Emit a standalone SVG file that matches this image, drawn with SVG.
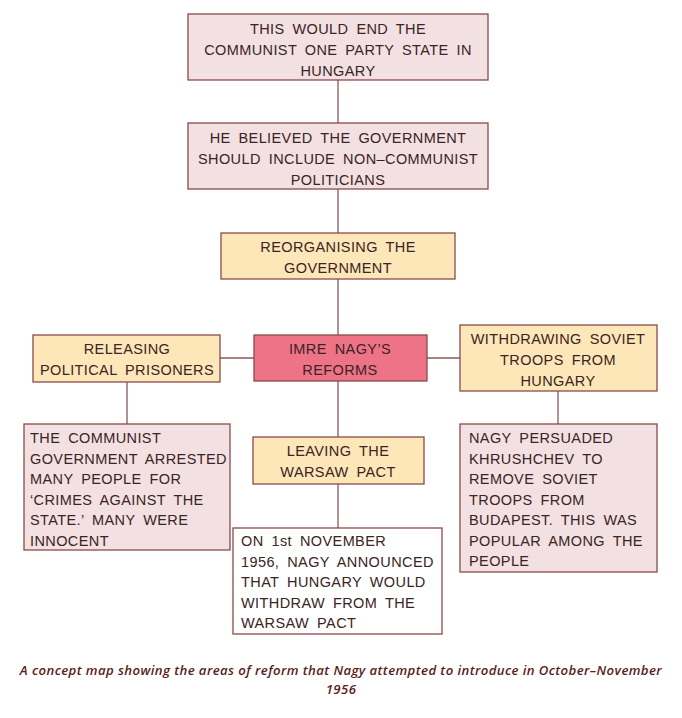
<svg xmlns="http://www.w3.org/2000/svg" width="682" height="718" viewBox="0 0 682 718">
<style>
.box{stroke:#8a4a4a;stroke-width:1.3}
.pink{fill:#f3e0e2}
.yellow{fill:#fde7b8}
.red{fill:#ee7387}
.white{fill:#ffffff}
.t{font-family:"Liberation Sans",Arial,sans-serif;font-size:14.5px;fill:#3a2424;letter-spacing:0.4px;word-spacing:3.5px}
.c{text-anchor:middle}
.line{stroke:#8a5a5a;stroke-width:1.3;fill:none}
.cap{font-family:"Open Sans","Liberation Sans",sans-serif;font-size:13.2px;font-style:italic;font-weight:600;fill:#5a1c1c;text-anchor:middle;letter-spacing:0.4px}
</style>
<rect width="682" height="718" fill="#ffffff"/>
<g id="connectors">
<path class="line" d="M338 80V123M338 189V233M338 279V335M338 381V437M338 484V528M220 358H254M427 358H460M127 382V424M558 391V424"/>
</g>
<g id="n1">
<rect class="box pink" x="188" y="14" width="300" height="66"/>
<text class="t c" x="338" y="34">THIS WOULD END THE</text>
<text class="t c" x="338" y="55">COMMUNIST ONE PARTY STATE IN</text>
<text class="t c" x="338" y="76">HUNGARY</text>
</g>
<g id="n2">
<rect class="box pink" x="188" y="123" width="300" height="66"/>
<text class="t c" x="338" y="143">HE BELIEVED THE GOVERNMENT</text>
<text class="t c" x="338" y="164">SHOULD INCLUDE NON–COMMUNIST</text>
<text class="t c" x="338" y="185">POLITICIANS</text>
</g>
<g id="n3">
<rect class="box yellow" x="221" y="233" width="234" height="46"/>
<text class="t c" x="338" y="252">REORGANISING THE</text>
<text class="t c" x="338" y="273">GOVERNMENT</text>
</g>
<g id="center">
<rect class="box red" x="254" y="335" width="173" height="46"/>
<text class="t c" x="340" y="354">IMRE NAGY’S</text>
<text class="t c" x="340" y="375">REFORMS</text>
</g>
<g id="left">
<rect class="box yellow" x="33" y="335" width="187" height="47"/>
<text class="t c" x="127" y="354">RELEASING</text>
<text class="t c" x="127" y="375">POLITICAL PRISONERS</text>
</g>
<g id="right">
<rect class="box yellow" x="460" y="325" width="197" height="66"/>
<text class="t c" x="558" y="344">WITHDRAWING SOVIET</text>
<text class="t c" x="558" y="365">TROOPS FROM</text>
<text class="t c" x="558" y="386">HUNGARY</text>
</g>
<g id="left-detail">
<rect class="box pink" x="24" y="424" width="206" height="126"/>
<text class="t" x="30" y="443">THE COMMUNIST</text>
<text class="t" x="30" y="463.5">GOVERNMENT ARRESTED</text>
<text class="t" x="30" y="484">MANY PEOPLE FOR</text>
<text class="t" x="30" y="504.5">‘CRIMES AGAINST THE</text>
<text class="t" x="30" y="525">STATE.’ MANY WERE</text>
<text class="t" x="30" y="545.5">INNOCENT</text>
</g>
<g id="right-detail">
<rect class="box pink" x="460" y="424" width="197" height="148"/>
<text class="t" x="469" y="443">NAGY PERSUADED</text>
<text class="t" x="469" y="463.5">KHRUSHCHEV TO</text>
<text class="t" x="469" y="484">REMOVE SOVIET</text>
<text class="t" x="469" y="504.5">TROOPS FROM</text>
<text class="t" x="469" y="525">BUDAPEST. THIS WAS</text>
<text class="t" x="469" y="545.5">POPULAR AMONG THE</text>
<text class="t" x="469" y="566">PEOPLE</text>
</g>
<g id="warsaw">
<rect class="box yellow" x="253" y="437" width="171" height="47"/>
<text class="t c" x="338" y="456">LEAVING THE</text>
<text class="t c" x="338" y="477">WARSAW PACT</text>
</g>
<g id="warsaw-detail">
<rect class="box white" x="233" y="528" width="209" height="106"/>
<text class="t" x="241" y="546">ON 1st NOVEMBER</text>
<text class="t" x="241" y="566.5">1956, NAGY ANNOUNCED</text>
<text class="t" x="241" y="587">THAT HUNGARY WOULD</text>
<text class="t" x="241" y="607.5">WITHDRAW FROM THE</text>
<text class="t" x="241" y="628">WARSAW PACT</text>
</g>
<text class="cap" x="341" y="675">A concept map showing the areas of reform that Nagy attempted to introduce in October–November</text>
<text class="cap" x="341" y="694">1956</text>
</svg>
